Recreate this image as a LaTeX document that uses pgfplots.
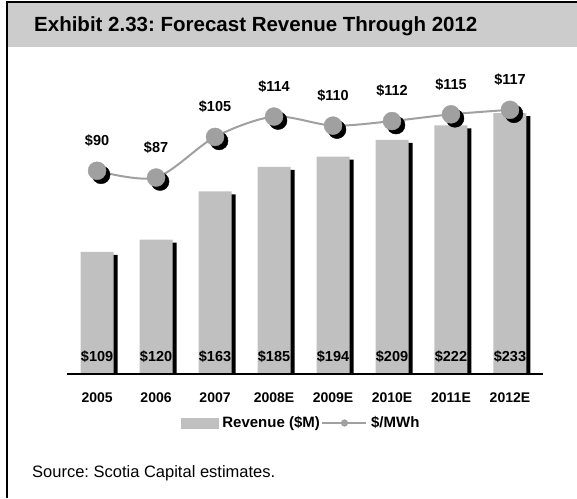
\documentclass[border=0pt]{standalone}
\usepackage{pgfplots}
\pgfplotsset{compat=1.18}
\usepackage{pgfplotstable}
\usepackage{fontspec}
\setmainfont{Liberation Sans}
\frenchspacing
\pgfplotsset{/pgf/number format/assume math mode=true}

\definecolor{headgray}{RGB}{204,204,204}
\definecolor{bargray}{RGB}{192,192,192}
\definecolor{markgray}{RGB}{160,160,160}

% revenue in $M, price in $/MWh
\pgfplotstableread{
x rev mwh
0 109 90
1 120 87
2 163 105
3 185 114
4 194 110
5 209 112
6 222 115
7 233 117
}\data

\begin{document}
\begin{tikzpicture}[x=1pt,y=1pt]
\useasboundingbox (0,0) rectangle (577,498);
\fill[headgray] (8,451) rectangle (577,495);
\draw[line width=2pt] (7,0) -- (7,496) -- (577,496);
\node[anchor=base west, inner sep=0pt, font=\bfseries\fontsize{20.5}{24}\selectfont]
  at (34,466) {Exhibit 2.33: Forecast Revenue Through 2012};
\node[anchor=base west, inner sep=0pt, font=\fontsize{16.5}{20}\selectfont]
  at (32,21) {Source: Scotia Capital estimates.};

\begin{axis}[
  at={(67pt,124pt)}, anchor=south west,
  scale only axis, width=476pt, height=280pt,
  xmin=-0.51, xmax=7.56, ymin=0, ymax=250,
  axis x line*=bottom, axis y line=none,
  axis line style={line width=2pt},
  axis on top,
  xtick={0,...,7},
  xticklabels={2005,2006,2007,2008E,2009E,2010E,2011E,2012E},
  major tick length=0pt,
  xticklabel style={font=\bfseries\fontsize{14}{16}\selectfont, anchor=base, yshift=-28pt},
  legend style={at={(0.492,-0.175)}, anchor=center, draw=none, fill=none,
    legend columns=-1, font=\bfseries\fontsize{15}{17}\selectfont,
    /tikz/every odd column/.append style={column sep=2pt}},
]
\addplot[ybar, bar width=33pt, bar shift=4pt, fill=black, draw=none, forget plot]
  table[x=x, y expr=\thisrow{rev}-2.7] {\data};
\addplot[ybar, bar width=33pt, bar shift=0pt, fill=bargray, draw=none, forget plot]
  table[x=x, y=rev] {\data};
\addplot[draw=none, mark=none, forget plot,
  nodes near coords={\$\pgfmathprintnumber{\pgfplotspointmeta}},
  point meta=\thisrow{rev},
  every node near coord/.style={anchor=center, yshift=17pt, text=black,
    font=\bfseries\fontsize{14.5}{16}\selectfont}]
  table[x=x, y expr=0] {\data};

\addlegendimage{legend image code/.code={\fill[bargray] (0pt,-5pt) rectangle (37pt,5pt);}}
\addlegendentry{Revenue (\$M)}
\addlegendimage{markgray, line width=1.2pt, mark=*, mark size=3pt,
  mark options={draw=none, fill=markgray},
  legend image code/.code={\draw[mark repeat=2, mark phase=2] plot coordinates {(0pt,0pt) (22pt,0pt) (44pt,0pt)};}}
\addlegendentry{\$/MWh}
\end{axis}

\begin{axis}[
  at={(67pt,124pt)}, anchor=south west,
  scale only axis, width=476pt, height=280pt,
  xmin=-0.51, xmax=7.56, ymin=0, ymax=124,
  hide axis, clip=false,
]
% shadow of the markers
\addplot[only marks, black, mark=*, mark size=9pt,
  mark options={fill=black, draw=none},
  transform canvas={xshift=2pt, yshift=-2pt}]
  table[x=x, y=mwh] {\data};
\addplot[markgray, line width=2pt, smooth, mark=none]
  table[x=x, y=mwh] {\data};
\addplot[only marks, markgray, mark=*, mark size=9pt,
  mark options={fill=markgray, draw=none},
  nodes near coords={\$\pgfmathprintnumber{\pgfplotspointmeta}},
  point meta=\thisrow{mwh},
  every node near coord/.style={anchor=center, yshift=30pt, text=black,
    font=\bfseries\fontsize{14.5}{16}\selectfont}]
  table[x=x, y=mwh] {\data};
\end{axis}
\end{tikzpicture}
\end{document}
